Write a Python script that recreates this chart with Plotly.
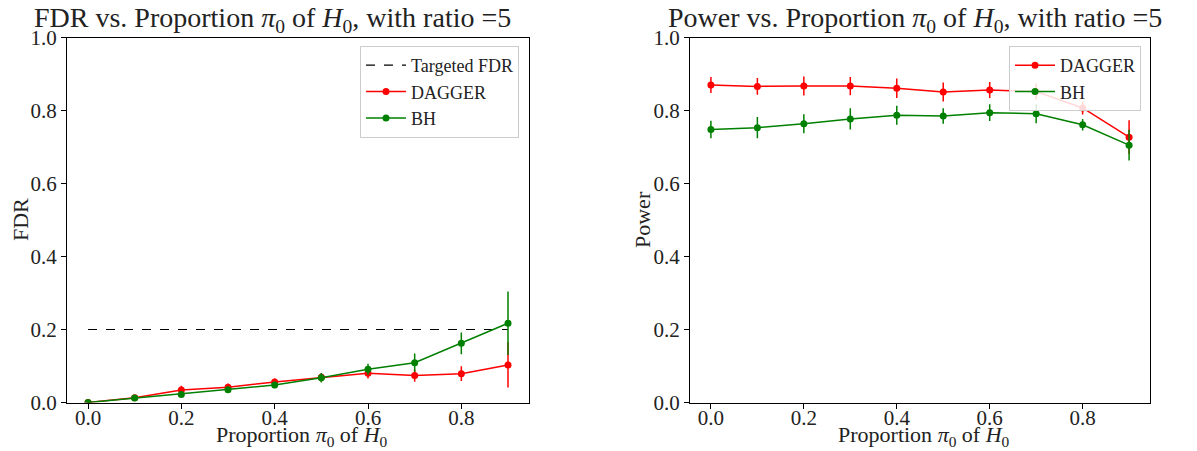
import plotly.graph_objects as go

pi0 = [0.0, 0.1, 0.2, 0.3, 0.4, 0.5, 0.6, 0.7, 0.8, 0.9]

fdr_dagger = [0.0, 0.013, 0.034, 0.042, 0.056, 0.069, 0.080, 0.074, 0.079, 0.103]
fdr_dagger_err = [0.002, 0.005, 0.012, 0.010, 0.010, 0.012, 0.014, 0.017, 0.020, 0.062]
fdr_bh = [0.0, 0.012, 0.022, 0.035, 0.048, 0.068, 0.091, 0.109, 0.162, 0.217]
fdr_bh_err = [0.002, 0.004, 0.007, 0.008, 0.009, 0.013, 0.015, 0.025, 0.030, 0.087]
target_fdr = [0.2, 0.2]
target_x = [0.0, 0.9]

pow_dagger = [0.870, 0.866, 0.867, 0.867, 0.861, 0.851, 0.856, 0.852, 0.807, 0.727]
pow_dagger_err = [0.022, 0.023, 0.026, 0.025, 0.027, 0.026, 0.022, 0.022, 0.018, 0.046]
pow_bh = [0.748, 0.753, 0.764, 0.777, 0.787, 0.785, 0.794, 0.791, 0.761, 0.705]
pow_bh_err = [0.024, 0.029, 0.026, 0.029, 0.026, 0.021, 0.023, 0.026, 0.016, 0.042]

xticks = [0.0, 0.2, 0.4, 0.6, 0.8]
yticks = [0.0, 0.2, 0.4, 0.6, 0.8, 1.0]

FONT = "Liberation Serif"
OFF = 8  # page body margin
W, H = 1197 - OFF, 451 - OFF

fig = go.Figure()

def series(x, y, err, color, name, xa, ya, legend, showlegend=True):
    fig.add_trace(go.Scatter(
        x=x, y=y, name=name, mode="lines+markers",
        line=dict(color=color, width=1.5),
        marker=dict(color=color, size=7),
        error_y=dict(type="data", array=err, visible=True, color=color, thickness=1.5, width=0),
        xaxis=xa, yaxis=ya, legend=legend, showlegend=showlegend,
    ))

fig.add_trace(go.Scatter(
    x=target_x, y=target_fdr, name="Targeted FDR", mode="lines",
    line=dict(color="black", width=1.2, dash="dash"),
    xaxis="x", yaxis="y", legend="legend",
))
series(pi0, fdr_dagger, fdr_dagger_err, "red", "DAGGER", "x", "y", "legend")
series(pi0, fdr_bh, fdr_bh_err, "green", "BH", "x", "y", "legend")
series(pi0, pow_dagger, pow_dagger_err, "red", "DAGGER", "x2", "y2", "legend2")
series(pi0, pow_bh, pow_bh_err, "green", "BH", "x2", "y2", "legend2")

def px_x(p):
    return (p - OFF) / W

def px_y(p):
    return 1 - (p - OFF) / H

ax_common = dict(
    showgrid=False, zeroline=False, showline=True, linecolor="black", linewidth=1.2,
    mirror=True, ticks="outside", ticklen=5, tickwidth=1, tickcolor="black",
    tickfont=dict(family=FONT, size=21, color="#222"), automargin=False,
)

left = (67, 529)
right = (690, 1150)
top, bottom = 37.5, 402.5

fig.update_layout(
    width=W, height=H,
    margin=dict(l=0, r=0, t=0, b=0, autoexpand=False),
    paper_bgcolor="white", plot_bgcolor="white",
    font=dict(family=FONT, color="#222"),
    xaxis=dict(domain=[px_x(left[0]), px_x(left[1])], range=[-0.045, 0.945],
               tickvals=xticks, ticktext=[f"{v:.1f}" for v in xticks], anchor="y",
               ticklabelstandoff=-9, **ax_common),
    yaxis=dict(domain=[px_y(bottom), px_y(top)], range=[0, 1],
               tickvals=yticks, ticktext=[f"{v:.1f}" for v in yticks], anchor="x", **ax_common),
    xaxis2=dict(domain=[px_x(right[0]), px_x(right[1])], range=[-0.045, 0.945],
                tickvals=xticks, ticktext=[f"{v:.1f}" for v in xticks], anchor="y2",
                ticklabelstandoff=-9, **ax_common),
    yaxis2=dict(domain=[px_y(bottom), px_y(top)], range=[0, 1],
                tickvals=yticks, ticktext=[f"{v:.1f}" for v in yticks], anchor="x2", **ax_common),
    legend=dict(x=px_x(519), y=px_y(46), xanchor="right", yanchor="top",
                bgcolor="rgba(255,255,255,0.85)", bordercolor="#ccc", borderwidth=1,
                font=dict(family=FONT, size=18, color="#222"), tracegroupgap=0, itemwidth=40),
    legend2=dict(x=px_x(1141), y=px_y(46), xanchor="right", yanchor="top",
                 bgcolor="rgba(255,255,255,0.85)", bordercolor="#ccc", borderwidth=1,
                 font=dict(family=FONT, size=18, color="#222"), tracegroupgap=0, itemwidth=40),
)

title_sub = "Proportion <i>π</i><sub>0</sub> of <i>H</i><sub>0</sub>"
annots = [
    dict(text="FDR vs. " + title_sub + ", with ratio =5", x=px_x(272), y=px_y(1),
         xanchor="center", yanchor="top", size=28),
    dict(text="Power vs. " + title_sub + ", with ratio =5", x=px_x(915), y=px_y(1),
         xanchor="center", yanchor="top", size=28),
    dict(text=title_sub, x=px_x(302), y=px_y(451), xanchor="center",
         yanchor="bottom", size=22),
    dict(text=title_sub, x=px_x(924), y=px_y(451), xanchor="center",
         yanchor="bottom", size=22),
]
for a in annots:
    fig.add_annotation(text=a["text"], x=a["x"], y=a["y"], xref="paper", yref="paper",
                       xanchor=a["xanchor"], yanchor=a["yanchor"], showarrow=False, borderpad=0,
                       font=dict(family=FONT, size=a["size"], color="#222"))

for text, xc in [("FDR", 20), ("Power", 642)]:
    fig.add_annotation(text=text, x=px_x(xc), y=px_y((top + bottom) / 2), xref="paper", yref="paper",
                       xanchor="center", yanchor="middle", textangle=-90, showarrow=False,
                       font=dict(family=FONT, size=22, color="#222"))

fig.write_html("out.html")
